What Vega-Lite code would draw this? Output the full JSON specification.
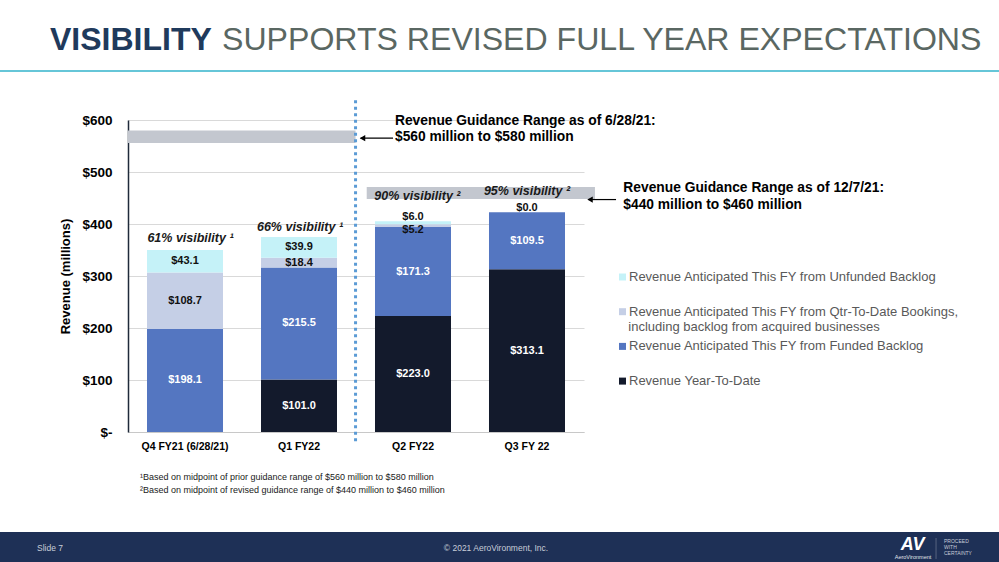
{
  "$schema": "https://vega.github.io/schema/vega-lite/v6.json",
  "width": 456,
  "height": 312,
  "autosize": {"type": "none"},
  "padding": {"left": 128, "top": 120, "right": 415, "bottom": 130},
  "background": "white",
  "config": {"font": "Liberation Sans", "view": {"stroke": null}},
  "datasets": {
    "bars": [
      {"quarter": "Q4 FY21 (6/28/21)", "series": "Revenue Anticipated This FY from Funded Backlog", "value": 198.1},
      {"quarter": "Q4 FY21 (6/28/21)", "series": "Revenue Anticipated This FY from Qtr-To-Date Bookings, including backlog from acquired businesses", "value": 108.7},
      {"quarter": "Q4 FY21 (6/28/21)", "series": "Revenue Anticipated This FY from Unfunded Backlog", "value": 43.1},
      {"quarter": "Q1 FY22", "series": "Revenue Year-To-Date", "value": 101.0},
      {"quarter": "Q1 FY22", "series": "Revenue Anticipated This FY from Funded Backlog", "value": 215.5},
      {"quarter": "Q1 FY22", "series": "Revenue Anticipated This FY from Qtr-To-Date Bookings, including backlog from acquired businesses", "value": 18.4},
      {"quarter": "Q1 FY22", "series": "Revenue Anticipated This FY from Unfunded Backlog", "value": 39.9},
      {"quarter": "Q2 FY22", "series": "Revenue Year-To-Date", "value": 223.0},
      {"quarter": "Q2 FY22", "series": "Revenue Anticipated This FY from Funded Backlog", "value": 171.3},
      {"quarter": "Q2 FY22", "series": "Revenue Anticipated This FY from Qtr-To-Date Bookings, including backlog from acquired businesses", "value": 5.2},
      {"quarter": "Q2 FY22", "series": "Revenue Anticipated This FY from Unfunded Backlog", "value": 6.0},
      {"quarter": "Q3 FY 22", "series": "Revenue Year-To-Date", "value": 313.1},
      {"quarter": "Q3 FY 22", "series": "Revenue Anticipated This FY from Funded Backlog", "value": 109.5},
      {"quarter": "Q3 FY 22", "series": "Revenue Anticipated This FY from Unfunded Backlog", "value": 0.0}
    ]
  },
  "resolve": {"scale": {"x": "independent"}},
  "layer": [
    {
      "data": {"name": "bars"},
      "transform": [
        {"calculate": "indexof(['Revenue Year-To-Date','Revenue Anticipated This FY from Funded Backlog','Revenue Anticipated This FY from Qtr-To-Date Bookings, including backlog from acquired businesses','Revenue Anticipated This FY from Unfunded Backlog'], datum.series)", "as": "rank"},
        {"stack": "value", "groupby": ["quarter"], "sort": [{"field": "rank", "order": "ascending"}], "as": ["y0", "y1"]},
        {"calculate": "(datum.y0 + datum.y1) / 2", "as": "ymid"}
      ],
      "layer": [
        {
          "mark": {"type": "bar"},
          "encoding": {
            "x": {"field": "quarter", "type": "nominal", "sort": ["Q4 FY21 (6/28/21)", "Q1 FY22", "Q2 FY22", "Q3 FY 22"], "scale": {"paddingInner": 0.3333, "paddingOuter": 0.1667},
              "axis": {"title": null, "labelAngle": 0, "labelFontSize": 10.5, "labelFontWeight": "bold", "labelColor": "#000000", "labelPadding": 9, "ticks": false, "domainColor": "#c8c8c8", "domainWidth": 1, "grid": false}},
            "y": {"field": "y0", "type": "quantitative", "scale": {"domain": [0, 600]},
              "axis": {"values": [0, 100, 200, 300, 400, 500, 600], "labelExpr": "datum.value == 0 ? '$-\u00a0\u00a0\u00a0' : '$' + datum.value", "labelFontSize": 13.5, "labelFontWeight": "bold", "labelColor": "#000000", "labelPadding": 16, "ticks": false, "domainColor": "#1f2a3a", "domainWidth": 1.5, "grid": true, "gridColor": "#d9d9d9", "gridWidth": 1, "title": "Revenue (millions)", "titleFontSize": 13, "titleFontWeight": "bold", "titleColor": "#000000", "titlePadding": 9}},
            "y2": {"field": "y1"},
            "color": {"field": "series", "type": "nominal",
              "scale": {"domain": ["Revenue Anticipated This FY from Unfunded Backlog", "Revenue Anticipated This FY from Qtr-To-Date Bookings, including backlog from acquired businesses", "Revenue Anticipated This FY from Funded Backlog", "Revenue Year-To-Date"], "range": ["#c5f2f8", "#c5cfe6", "#5476c1", "#131a2c"]},
              "legend": {"orient": "none", "legendX": 488, "legendY": 150.5, "title": null, "symbolType": "square", "symbolSize": 49, "symbolStrokeWidth": 0, "labelFontSize": 13, "labelColor": "#595959", "labelLimit": 0, "rowPadding": 20.7, "labelOffset": 0, "padding": 0,
                "labelExpr": "datum.label == 'Revenue Anticipated This FY from Qtr-To-Date Bookings, including backlog from acquired businesses' ? 'Revenue Anticipated This FY from Qtr-To-Date Bookings,' : datum.label"}}
          }
        },
        {
          "transform": [{"filter": "datum.value >= 15"}],
          "mark": {"type": "text", "fontSize": 11, "fontWeight": "bold", "baseline": "middle"},
          "encoding": {
            "x": {"field": "quarter", "type": "nominal", "sort": ["Q4 FY21 (6/28/21)", "Q1 FY22", "Q2 FY22", "Q3 FY 22"]},
            "y": {"field": "ymid", "type": "quantitative"},
            "text": {"field": "value", "type": "quantitative", "format": "$.1f"},
            "color": {"condition": {"test": "datum.series == 'Revenue Year-To-Date' || datum.series == 'Revenue Anticipated This FY from Funded Backlog'", "value": "#ffffff"}, "value": "#111111"}
          }
        },
        {
          "transform": [{"filter": "datum.value < 15 && datum.series == 'Revenue Anticipated This FY from Unfunded Backlog'"}],
          "mark": {"type": "text", "fontSize": 11, "fontWeight": "bold", "baseline": "middle", "dy": -4, "color": "#111111"},
          "encoding": {
            "x": {"field": "quarter", "type": "nominal", "sort": ["Q4 FY21 (6/28/21)", "Q1 FY22", "Q2 FY22", "Q3 FY 22"]},
            "y": {"field": "y1", "type": "quantitative"},
            "text": {"field": "value", "type": "quantitative", "format": "$.1f"}
          }
        },
        {
          "transform": [{"filter": "datum.value < 15 && datum.series == 'Revenue Anticipated This FY from Qtr-To-Date Bookings, including backlog from acquired businesses'"}],
          "mark": {"type": "text", "fontSize": 11, "fontWeight": "bold", "baseline": "middle", "dy": 3, "color": "#111111"},
          "encoding": {
            "x": {"field": "quarter", "type": "nominal", "sort": ["Q4 FY21 (6/28/21)", "Q1 FY22", "Q2 FY22", "Q3 FY 22"]},
            "y": {"field": "y0", "type": "quantitative"},
            "text": {"field": "value", "type": "quantitative", "format": "$.1f"}
          }
        }
      ]
    },
    {
      "data": {"values": [{}]},
      "layer": [
        {"mark": {"type": "rect", "color": "#c3c7cf"},
         "encoding": {"x": {"datum": 0, "type": "quantitative", "scale": {"domain": [0, 4]}, "axis": null}, "x2": {"datum": 1.996},
                      "y": {"datum": 556, "type": "quantitative", "scale": {"domain": [0, 600]}}, "y2": {"datum": 580}}},
        {"mark": {"type": "rect", "color": "#c3c7cf"},
         "encoding": {"x": {"datum": 2.094, "type": "quantitative", "scale": {"domain": [0, 4]}, "axis": null}, "x2": {"datum": 4.096},
                      "y": {"datum": 448, "type": "quantitative", "scale": {"domain": [0, 600]}}, "y2": {"datum": 471}}},
        {"mark": {"type": "rule", "color": "#5b9bd5", "strokeWidth": 3, "strokeDash": [3, 3.5]},
         "encoding": {"x": {"datum": 1.996, "type": "quantitative", "scale": {"domain": [0, 4]}, "axis": null},
                      "y": {"datum": 638, "type": "quantitative", "scale": {"domain": [0, 600]}}, "y2": {"datum": -19}}},
        {"mark": {"type": "rule", "color": "#000000", "strokeWidth": 1.2},
         "encoding": {"x": {"datum": 2.04, "type": "quantitative", "scale": {"domain": [0, 4]}, "axis": null}, "x2": {"datum": 2.325},
                      "y": {"datum": 565, "type": "quantitative", "scale": {"domain": [0, 600]}}}},
        {"mark": {"type": "point", "shape": "triangle-left", "filled": true, "color": "#000000", "size": 40, "opacity": 1},
         "encoding": {"x": {"datum": 2.057, "type": "quantitative", "scale": {"domain": [0, 4]}, "axis": null},
                      "y": {"datum": 565, "type": "quantitative", "scale": {"domain": [0, 600]}}}},
        {"mark": {"type": "rule", "color": "#000000", "strokeWidth": 1.2},
         "encoding": {"x": {"datum": 4.04, "type": "quantitative", "scale": {"domain": [0, 4]}, "axis": null}, "x2": {"datum": 4.281},
                      "y": {"datum": 447, "type": "quantitative", "scale": {"domain": [0, 600]}}}},
        {"mark": {"type": "point", "shape": "triangle-left", "filled": true, "color": "#000000", "size": 40, "opacity": 1},
         "encoding": {"x": {"datum": 4.053, "type": "quantitative", "scale": {"domain": [0, 4]}, "axis": null},
                      "y": {"datum": 447, "type": "quantitative", "scale": {"domain": [0, 600]}}}},
        {"mark": {"type": "text", "align": "left", "baseline": "middle", "fontSize": 13.8, "fontWeight": "bold", "color": "#000000"},
         "encoding": {"x": {"datum": 2.342, "type": "quantitative", "scale": {"domain": [0, 4]}, "axis": null},
                      "y": {"datum": 598.5, "type": "quantitative", "scale": {"domain": [0, 600]}},
                      "text": {"value": "Revenue Guidance Range as of 6/28/21:"}}},
        {"mark": {"type": "text", "align": "left", "baseline": "middle", "fontSize": 13.8, "fontWeight": "bold", "color": "#000000"},
         "encoding": {"x": {"datum": 2.342, "type": "quantitative", "scale": {"domain": [0, 4]}, "axis": null},
                      "y": {"datum": 566.5, "type": "quantitative", "scale": {"domain": [0, 600]}},
                      "text": {"value": "$560 million to $580 million"}}},
        {"mark": {"type": "text", "align": "left", "baseline": "middle", "fontSize": 13.8, "fontWeight": "bold", "color": "#000000"},
         "encoding": {"x": {"datum": 4.345, "type": "quantitative", "scale": {"domain": [0, 4]}, "axis": null},
                      "y": {"datum": 469, "type": "quantitative", "scale": {"domain": [0, 600]}},
                      "text": {"value": "Revenue Guidance Range as of 12/7/21:"}}},
        {"mark": {"type": "text", "align": "left", "baseline": "middle", "fontSize": 13.8, "fontWeight": "bold", "color": "#000000"},
         "encoding": {"x": {"datum": 4.345, "type": "quantitative", "scale": {"domain": [0, 4]}, "axis": null},
                      "y": {"datum": 436.5, "type": "quantitative", "scale": {"domain": [0, 600]}},
                      "text": {"value": "$440 million to $460 million"}}},
        {"mark": {"type": "text", "align": "left", "baseline": "middle", "fontSize": 13, "color": "#595959"},
         "encoding": {"x": {"datum": 4.389, "type": "quantitative", "scale": {"domain": [0, 4]}, "axis": null},
                      "y": {"datum": 202.5, "type": "quantitative", "scale": {"domain": [0, 600]}},
                      "text": {"value": "including backlog from acquired businesses"}}},
        {"mark": {"type": "text", "align": "center", "baseline": "middle", "fontSize": 12.5, "fontWeight": "bold", "fontStyle": "italic", "color": "#1a1a1a"},
         "encoding": {"x": {"datum": 0.548, "type": "quantitative", "scale": {"domain": [0, 4]}, "axis": null},
                      "y": {"datum": 373, "type": "quantitative", "scale": {"domain": [0, 600]}},
                      "text": {"value": "61% visibility ¹"}}},
        {"mark": {"type": "text", "align": "center", "baseline": "middle", "fontSize": 12.5, "fontWeight": "bold", "fontStyle": "italic", "color": "#1a1a1a"},
         "encoding": {"x": {"datum": 1.509, "type": "quantitative", "scale": {"domain": [0, 4]}, "axis": null},
                      "y": {"datum": 394, "type": "quantitative", "scale": {"domain": [0, 600]}},
                      "text": {"value": "66% visibility ¹"}}},
        {"mark": {"type": "text", "align": "center", "baseline": "middle", "fontSize": 12.5, "fontWeight": "bold", "fontStyle": "italic", "color": "#1a1a1a"},
         "encoding": {"x": {"datum": 2.539, "type": "quantitative", "scale": {"domain": [0, 4]}, "axis": null},
                      "y": {"datum": 454.5, "type": "quantitative", "scale": {"domain": [0, 600]}},
                      "text": {"value": "90% visibility ²"}}},
        {"mark": {"type": "text", "align": "center", "baseline": "middle", "fontSize": 12.5, "fontWeight": "bold", "fontStyle": "italic", "color": "#1a1a1a"},
         "encoding": {"x": {"datum": 3.5, "type": "quantitative", "scale": {"domain": [0, 4]}, "axis": null},
                      "y": {"datum": 463.5, "type": "quantitative", "scale": {"domain": [0, 600]}},
                      "text": {"value": "95% visibility ²"}}},
        {"mark": {"type": "text", "align": "left", "baseline": "alphabetic", "fontSize": 32, "fontWeight": "bold", "color": "#1f3a5c"},
         "encoding": {"x": {"datum": -0.684, "type": "quantitative", "scale": {"domain": [0, 4]}, "axis": null},
                      "y": {"datum": 734.6, "type": "quantitative", "scale": {"domain": [0, 600]}},
                      "text": {"value": "VISIBILITY"}}},
        {"mark": {"type": "text", "align": "left", "baseline": "alphabetic", "fontSize": 32.1, "color": "#5a6762"},
         "encoding": {"x": {"datum": 0.825, "type": "quantitative", "scale": {"domain": [0, 4]}, "axis": null},
                      "y": {"datum": 734.6, "type": "quantitative", "scale": {"domain": [0, 600]}},
                      "text": {"value": "SUPPORTS REVISED FULL YEAR EXPECTATIONS"}}},
        {"mark": {"type": "rule", "color": "#66c6d8", "strokeWidth": 2},
         "encoding": {"x": {"datum": -1.13, "type": "quantitative", "scale": {"domain": [0, 4]}, "axis": null}, "x2": {"datum": 7.65},
                      "y": {"datum": 694.2, "type": "quantitative", "scale": {"domain": [0, 600]}}}},
        {"mark": {"type": "text", "align": "left", "baseline": "middle", "fontSize": 9, "color": "#1a1a1a"},
         "encoding": {"x": {"datum": 0.105, "type": "quantitative", "scale": {"domain": [0, 4]}, "axis": null},
                      "y": {"datum": -86.5, "type": "quantitative", "scale": {"domain": [0, 600]}},
                      "text": {"value": "¹Based on midpoint of prior guidance range of $560 million to $580 million"}}},
        {"mark": {"type": "text", "align": "left", "baseline": "middle", "fontSize": 9, "color": "#1a1a1a"},
         "encoding": {"x": {"datum": 0.105, "type": "quantitative", "scale": {"domain": [0, 4]}, "axis": null},
                      "y": {"datum": -111.5, "type": "quantitative", "scale": {"domain": [0, 600]}},
                      "text": {"value": "²Based on midpoint of revised guidance range of $440 million to $460 million"}}},
        {"mark": {"type": "rect", "color": "#1e3056"},
         "encoding": {"x": {"datum": -1.13, "type": "quantitative", "scale": {"domain": [0, 4]}, "axis": null}, "x2": {"datum": 7.65},
                      "y": {"datum": -192.3, "type": "quantitative", "scale": {"domain": [0, 600]}}, "y2": {"datum": -252}}},
        {"mark": {"type": "text", "align": "left", "baseline": "middle", "fontSize": 8.5, "color": "#c8cdd8"},
         "encoding": {"x": {"datum": -0.798, "type": "quantitative", "scale": {"domain": [0, 4]}, "axis": null},
                      "y": {"datum": -223, "type": "quantitative", "scale": {"domain": [0, 600]}},
                      "text": {"value": "Slide 7"}}},
        {"mark": {"type": "text", "align": "center", "baseline": "middle", "fontSize": 8.5, "color": "#c8cdd8"},
         "encoding": {"x": {"datum": 3.228, "type": "quantitative", "scale": {"domain": [0, 4]}, "axis": null},
                      "y": {"datum": -223, "type": "quantitative", "scale": {"domain": [0, 600]}},
                      "text": {"value": "© 2021 AeroVironment, Inc."}}},
        {"mark": {"type": "text", "align": "center", "baseline": "alphabetic", "fontSize": 18, "fontWeight": "bold", "fontStyle": "italic", "color": "#ffffff"},
         "encoding": {"x": {"datum": 6.882, "type": "quantitative", "scale": {"domain": [0, 4]}, "axis": null},
                      "y": {"datum": -226.9, "type": "quantitative", "scale": {"domain": [0, 600]}},
                      "text": {"value": "AV"}}},
        {"mark": {"type": "text", "align": "center", "baseline": "middle", "fontSize": 5.5, "color": "#e0e4ea"},
         "encoding": {"x": {"datum": 6.886, "type": "quantitative", "scale": {"domain": [0, 4]}, "axis": null},
                      "y": {"datum": -241.3, "type": "quantitative", "scale": {"domain": [0, 600]}},
                      "text": {"value": "AeroVironment"}}},
        {"mark": {"type": "rule", "color": "#6f7a90", "strokeWidth": 0.7},
         "encoding": {"x": {"datum": 7.088, "type": "quantitative", "scale": {"domain": [0, 4]}, "axis": null},
                      "y": {"datum": -203.8, "type": "quantitative", "scale": {"domain": [0, 600]}}, "y2": {"datum": -244.2}}},
        {"mark": {"type": "text", "align": "left", "baseline": "middle", "fontSize": 5, "color": "#c8cdd8"},
         "encoding": {"x": {"datum": 7.158, "type": "quantitative", "scale": {"domain": [0, 4]}, "axis": null},
                      "y": {"datum": -209.6, "type": "quantitative", "scale": {"domain": [0, 600]}},
                      "text": {"value": "PROCEED"}}},
        {"mark": {"type": "text", "align": "left", "baseline": "middle", "fontSize": 5, "color": "#c8cdd8"},
         "encoding": {"x": {"datum": 7.158, "type": "quantitative", "scale": {"domain": [0, 4]}, "axis": null},
                      "y": {"datum": -221.2, "type": "quantitative", "scale": {"domain": [0, 600]}},
                      "text": {"value": "WITH"}}},
        {"mark": {"type": "text", "align": "left", "baseline": "middle", "fontSize": 5, "color": "#c8cdd8"},
         "encoding": {"x": {"datum": 7.158, "type": "quantitative", "scale": {"domain": [0, 4]}, "axis": null},
                      "y": {"datum": -232.7, "type": "quantitative", "scale": {"domain": [0, 600]}},
                      "text": {"value": "CERTAINTY"}}}
      ]
    }
  ]
}
